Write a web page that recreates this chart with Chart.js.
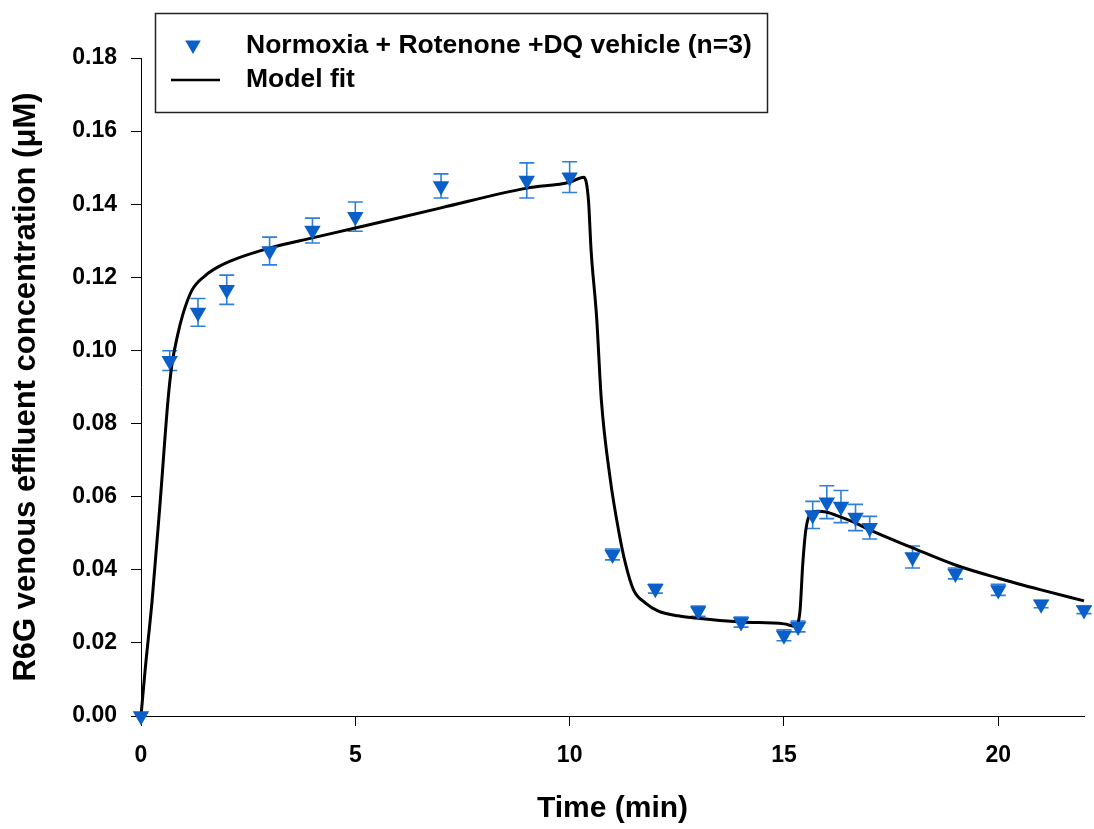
<!DOCTYPE html>
<html>
<head>
<meta charset="utf-8">
<script src="https://cdn.jsdelivr.net/npm/chart.js@4/dist/chart.umd.min.js"></script>
<style>
  html, body { margin: 0; padding: 0; background: #ffffff; }
  #wrap { width: 1094px; height: 829px; position: relative; }
</style>
</head>
<body>
<div id="wrap"><canvas id="c" width="1094" height="829"></canvas></div>
<script>
// ---- Data ----
const obsTime = [0, 0.67, 1.33, 2, 3, 4, 5, 7, 9, 10, 11, 12, 13, 14, 15, 15.33, 15.67, 16, 16.33, 16.67, 17, 18, 19, 20, 21, 22];
const obsMean = [0, 0.0972, 0.1104, 0.1166, 0.1272, 0.1328, 0.1366, 0.1450, 0.1465, 0.1474, 0.0442, 0.0348, 0.0287, 0.0257, 0.0221, 0.0245, 0.0550, 0.0585, 0.0573, 0.0543, 0.0515, 0.0435, 0.0390, 0.0345, 0.0306, 0.0290];
const obsErr  = [0, 0.0027, 0.0038, 0.0040, 0.0038, 0.0034, 0.0040, 0.0033, 0.0048, 0.0042, 0.0015, 0.0012, 0.0014, 0.0014, 0.0015, 0.0015, 0.0037, 0.0045, 0.0044, 0.0036, 0.0031, 0.0030, 0.0015, 0.0015, 0.0010, 0.0010];

const fitTime  = [0, 0.1, 0.26, 0.45, 0.63, 0.72, 0.85, 0.98, 1.19, 1.5, 1.79, 2.2, 3, 4, 5, 7, 9, 10, 10.33, 10.44, 10.5, 10.63, 10.74, 10.95, 11.14, 11.3, 11.49, 11.77, 12.07, 12.53, 12.93, 14, 15, 15.26, 15.37, 15.44, 15.51, 15.63, 15.79, 15.98, 16.33, 16.67, 17, 18, 19, 20, 21, 22];
const fitValue = [0, 0.0130, 0.0317, 0.0590, 0.0864, 0.0960, 0.1040, 0.1100, 0.1165, 0.1205, 0.1228, 0.1250, 0.1280, 0.1308, 0.1335, 0.1390, 0.1444, 0.1460, 0.1474, 0.1410, 0.1275, 0.1090, 0.0864, 0.0646, 0.0509, 0.0418, 0.0345, 0.0309, 0.0287, 0.0274, 0.0268, 0.0257, 0.0252, 0.0246, 0.0282, 0.0418, 0.0509, 0.0555, 0.0560, 0.0558, 0.0544, 0.0528, 0.0509, 0.0460, 0.0413, 0.0377, 0.0345, 0.0315];

const xTickValues = [0, 5, 10, 15, 20];
const yTickValues = [0, 0.02, 0.04, 0.06, 0.08, 0.10, 0.12, 0.14, 0.16, 0.18];

const seriesLabel = 'Normoxia + Rotenone +DQ vehicle (n=3)';
const fitLabel = 'Model fit';
const xTitle = 'Time (min)';
const yTitle = 'R6G venous effluent concentration (\u03BCM)';

// ---- Styles ----
const markerColor = '#0a5fc8';
const errColor = '#2f7fd9';
const FONT = "'Liberation Sans', Arial, sans-serif";

const obsPoints = obsTime.map((t, i) => ({ x: t, y: obsMean[i] }));
const fitPoints = fitTime.map((t, i) => ({ x: t, y: fitValue[i] }));

function drawDownTriangle(ctx, x, y, r, color) {
  ctx.save();
  ctx.fillStyle = color;
  ctx.beginPath();
  ctx.moveTo(x - r * Math.sqrt(3) / 2, y - r / 2);
  ctx.lineTo(x + r * Math.sqrt(3) / 2, y - r / 2);
  ctx.lineTo(x, y + r);
  ctx.closePath();
  ctx.fill();
  ctx.restore();
}

const errorBarPlugin = {
  id: 'errorBars',
  beforeDatasetsDraw(chart) {
    const ctx = chart.ctx;
    const xs = chart.scales.x, ys = chart.scales.y;
    ctx.save();
    ctx.strokeStyle = errColor;
    ctx.lineWidth = 1.6;
    obsTime.forEach((t, i) => {
      const e = obsErr[i];
      if (!e) return;
      const px = xs.getPixelForValue(t);
      const top = ys.getPixelForValue(obsMean[i] + e);
      const bot = ys.getPixelForValue(obsMean[i] - e);
      const cap = 7.5;
      ctx.beginPath();
      ctx.moveTo(px, top); ctx.lineTo(px, bot);
      ctx.moveTo(px - cap, top); ctx.lineTo(px + cap, top);
      ctx.moveTo(px - cap, bot); ctx.lineTo(px + cap, bot);
      ctx.stroke();
    });
    ctx.restore();
  }
};

const boxLegendPlugin = {
  id: 'boxLegend',
  afterDraw(chart) {
    const ctx = chart.ctx;
    ctx.save();
    ctx.strokeStyle = '#222';
    ctx.lineWidth = 1.5;
    ctx.strokeRect(155.5, 13.5, 612, 99);
    drawDownTriangle(ctx, 193, 45, 9, markerColor);
    ctx.strokeStyle = '#000';
    ctx.lineWidth = 2.5;
    ctx.beginPath();
    ctx.moveTo(171, 80); ctx.lineTo(220, 80);
    ctx.stroke();
    ctx.fillStyle = '#000';
    ctx.font = 'bold 26.5px ' + FONT;
    ctx.textBaseline = 'middle';
    ctx.textAlign = 'left';
    ctx.fillText(seriesLabel, 246, 46);
    ctx.fillText(fitLabel, 246, 80);
    ctx.restore();
  }
};

new Chart(document.getElementById('c'), {
  type: 'scatter',
  data: {
    datasets: [
      {
        label: fitLabel,
        data: fitPoints,
        showLine: true,
        borderColor: '#000',
        borderWidth: 3,
        pointRadius: 0,
        cubicInterpolationMode: 'monotone',
        clip: false,
        order: 2
      },
      {
        label: seriesLabel,
        data: obsPoints,
        showLine: false,
        pointStyle: 'triangle',
        rotation: 180,
        pointRadius: 9.5,
        pointBackgroundColor: markerColor,
        pointBorderColor: markerColor,
        pointBorderWidth: 0,
        clip: false,
        order: 1
      }
    ]
  },
  options: {
    responsive: false,
    animation: false,
    events: [],
    layout: { padding: { left: 0, top: 58, right: 10, bottom: 0 } },
    plugins: {
      legend: { display: false },
      tooltip: { enabled: false }
    },
    scales: {
      x: {
        type: 'linear',
        min: 0, max: 22,
        afterFit(s) { s.height = 113; },
        afterBuildTicks(s) { s.ticks = xTickValues.map(v => ({ value: v })); },
        ticks: {
          stepSize: 5,
          includeBounds: false,
          color: '#000',
          font: { family: FONT, size: 23, weight: 'bold' },
          padding: 16,
          maxRotation: 0,
          callback: v => String(v)
        },
        grid: { drawOnChartArea: false, drawTicks: true, tickLength: 10, color: '#000', tickWidth: 1 },
        border: { display: true, color: '#000', width: 1 },
        title: { display: true, text: xTitle, color: '#000', font: { family: FONT, size: 30, weight: 'bold' }, padding: { top: 0, bottom: 2 } }
      },
      y: {
        type: 'linear',
        min: 0, max: 0.18,
        afterFit(s) { s.width = 141; },
        afterBuildTicks(s) { s.ticks = yTickValues.map(v => ({ value: v })); },
        ticks: {
          stepSize: 0.02,
          color: '#000',
          font: { family: FONT, size: 23, weight: 'bold' },
          padding: 14,
          callback: v => Number(v).toFixed(2)
        },
        grid: { drawOnChartArea: false, drawTicks: true, tickLength: 10, color: '#000', tickWidth: 1 },
        border: { display: true, color: '#000', width: 1 },
        title: { display: true, text: yTitle, color: '#000', font: { family: FONT, size: 31, weight: 'bold' }, padding: { top: 8, bottom: 0 } }
      }
    }
  },
  plugins: [errorBarPlugin, boxLegendPlugin]
});
</script>
</body>
</html>
